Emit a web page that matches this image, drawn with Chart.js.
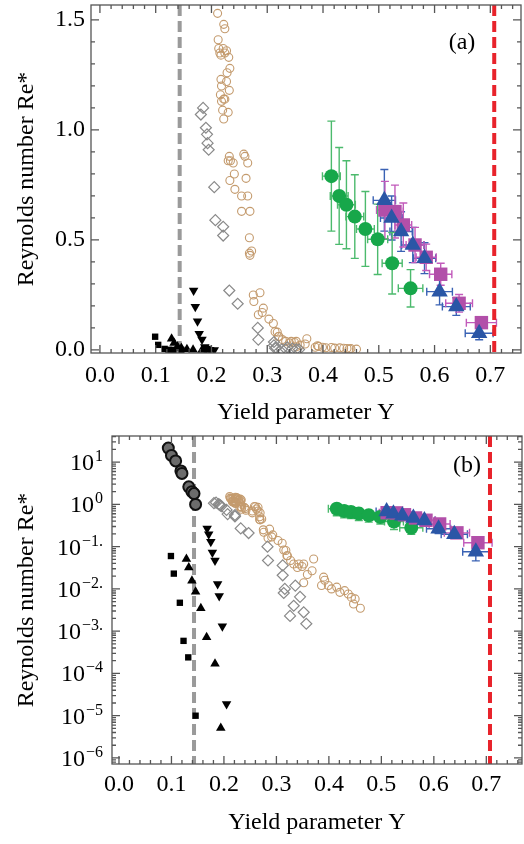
<!DOCTYPE html>
<html>
<head>
<meta charset="utf-8">
<script src="https://cdn.jsdelivr.net/npm/chart.js@4.4.0/dist/chart.umd.min.js"></script>
<style>
  html, body { margin: 0; padding: 0; background: #fff; }
  #wrapA { position: absolute; left: 0; top: 0; width: 524px; height: 432px; }
  #wrapB { position: absolute; left: 0; top: 432px; width: 524px; height: 412px; }
</style>
</head>
<body>
<div id="wrapA"><canvas id="chartA" width="524" height="432"></canvas></div>
<div id="wrapB"><canvas id="chartB" width="524" height="412"></canvas></div>
<script>
// ---- tick labels ----
const xTickVals = [0, 0.1, 0.2, 0.3, 0.4, 0.5, 0.6, 0.7];
const xTickLabels = ['0.0', '0.1', '0.2', '0.3', '0.4', '0.5', '0.6', '0.7'];
const linTickVals = [0, 0.5, 1.0, 1.5];
const linTickLabels = ['0.0', '0.5', '1.0', '1.5'];
const logTickVals = [1e-6, 1e-5, 1e-4, 1e-3, 1e-2, 1e-1, 1, 10];
const logTickExps = ['\u22126', '\u22125', '\u22124', '\u22123.', '\u22122.', '\u22121.', '0', '1'];

// ---- thresholds (vertical dashed lines) ----
const grayLineY = 0.143;
const redLineY = 0.707;

// ---- black squares ----
const sqX = [0.099, 0.1045, 0.116, 0.123, 0.132, 0.146];
const sqY = [0.060, 0.023, 0.0047, 0.00059, 0.00024, 0.00001];

// ---- black up triangles ----
const upX = [0.1285, 0.133, 0.139, 0.146, 0.156, 0.167, 0.183, 0.194];
const upY = [0.051, 0.032, 0.0156, 0.0086, 0.0035, 0.00072, 0.00017, 0.0000051];

// ---- black down triangles ----
const downX = [0.168, 0.171, 0.175, 0.178, 0.183, 0.188, 0.191, 0.197, 0.205];
const downY = [0.27, 0.196, 0.13, 0.073, 0.047, 0.013, 0.0068, 0.0013, 0.000019];

// ---- dark grey filled circles (panel b only) ----
const dkX = [0.094, 0.100, 0.108, 0.118, 0.120, 0.133, 0.139, 0.143, 0.146];
const dkY = [21.5, 14.4, 10.7, 6.2, 5.4, 2.6, 2.0, 1.8, 1.0];
const dkXErr = [0.006, 0.006, 0.006, 0.006, 0.006, 0.006, 0.006, 0.006, 0.006];

// ---- grey open diamonds ----
const diaX = [0.185, 0.181, 0.190, 0.192, 0.193, 0.195, 0.205, 0.207, 0.221, 0.221, 0.232, 0.247,
              0.283, 0.284, 0.312, 0.312, 0.336, 0.316, 0.314, 0.345, 0.333, 0.326, 0.352, 0.357];
const diaY = [1.10, 1.07, 1.01, 0.98, 0.94, 0.91, 0.74, 0.59, 0.56, 0.52, 0.27, 0.21,
              0.10, 0.047, 0.036, 0.021, 0.012, 0.010, 0.0080, 0.0065, 0.0040, 0.0023, 0.0028, 0.0015];

// ---- tan open circles ----
const tanX = [0.211, 0.222, 0.224, 0.212, 0.213, 0.221, 0.227, 0.215, 0.224, 0.217, 0.231, 0.233,
              0.228, 0.217, 0.227, 0.218, 0.232, 0.216, 0.222, 0.218, 0.224, 0.220, 0.230, 0.222,
              0.232, 0.234, 0.230, 0.239, 0.258, 0.260, 0.265, 0.241, 0.233, 0.262, 0.242, 0.254,
              0.265, 0.254, 0.269, 0.268, 0.268, 0.272, 0.269, 0.275, 0.287, 0.276, 0.293, 0.291,
              0.284, 0.303, 0.311, 0.314, 0.318, 0.320, 0.321, 0.327, 0.333, 0.340, 0.343, 0.349,
              0.352, 0.371, 0.368, 0.359, 0.352, 0.390, 0.392, 0.386, 0.399, 0.405, 0.415, 0.421,
              0.430, 0.437, 0.443, 0.450, 0.447, 0.460];
const tanY = [1.53, 1.48, 1.46, 1.41, 1.37, 1.37, 1.36, 1.35, 1.35, 1.34, 1.33, 1.28,
              1.26, 1.23, 1.22, 1.20, 1.18, 1.16, 1.14, 1.13, 1.14, 1.09, 1.08, 1.05,
              0.88, 0.86, 0.86, 0.85, 0.89, 0.88, 0.85, 0.80, 0.77, 0.78, 0.73, 0.70,
              0.70, 0.63, 0.63, 0.51, 0.44, 0.45, 0.43, 0.25, 0.26, 0.22, 0.19, 0.17,
              0.16, 0.14, 0.12, 0.083, 0.081, 0.061, 0.061, 0.047, 0.039, 0.032, 0.039, 0.034,
              0.039, 0.051, 0.027, 0.022, 0.014, 0.019, 0.016, 0.012, 0.012, 0.010, 0.011, 0.0083,
              0.0091, 0.0076, 0.0063, 0.0058, 0.0044, 0.0035];

// ---- green circles ----
const grX = [0.415, 0.429, 0.442, 0.457, 0.476, 0.498, 0.524, 0.557];
const grY = [0.79, 0.70, 0.66, 0.606, 0.55, 0.503, 0.394, 0.28];
const grXErr = [0.016, 0.016, 0.016, 0.016, 0.016, 0.018, 0.018, 0.022];
const grYErr = [0.25, 0.22, 0.20, 0.19, 0.17, 0.16, 0.14, 0.085];

// ---- magenta squares ----
const mgX = [0.511, 0.529, 0.544, 0.565, 0.585, 0.611, 0.644, 0.684];
const mgY = [0.636, 0.629, 0.568, 0.477, 0.421, 0.344, 0.212, 0.124];
const mgXErr = [0.015, 0.015, 0.015, 0.016, 0.018, 0.020, 0.024, 0.027];
const mgYErr = [0.13, 0.12, 0.10, 0.08, 0.06, 0.05, 0.04, 0.025];

// ---- blue triangles ----
const blX = [0.510, 0.523, 0.540, 0.561, 0.582, 0.609, 0.639, 0.680];
const blY = [0.68, 0.60, 0.538, 0.477, 0.417, 0.265, 0.197, 0.076];
const blXErr = [0.02, 0.02, 0.02, 0.02, 0.02, 0.023, 0.025, 0.025];
const blYErr = [0.14, 0.10, 0.09, 0.08, 0.07, 0.06, 0.04, 0.03];

const FAMILY = '"Liberation Serif", "Times New Roman", serif';
const FONT = { family: FAMILY, size: 24 };
const FRAME = '#555';

function pts(xs, ys) {
    return xs.map((v, i) => ({ x: v, y: ys[i] }));
}

function buildDatasets(logPanel) {
    const sets = [
        { label: 'blue', data: pts(blX, blY), pointStyle: 'triangle', pointRadius: 9.5,
          backgroundColor: '#2a56a6', borderColor: '#2a56a6', borderWidth: 0,
          errX: blXErr, errY: blYErr, errColor: '#3a62b4' },
        { label: 'magenta', data: pts(mgX, mgY), pointStyle: 'rect', pointRadius: 9.5,
          backgroundColor: '#b24fa9', borderColor: '#b24fa9', borderWidth: 0,
          errX: mgXErr, errY: mgYErr, errColor: '#c25bbb' },
        { label: 'green', data: pts(grX, grY), pointStyle: 'circle', pointRadius: 7,
          backgroundColor: '#17a74a', borderColor: '#17a74a', borderWidth: 0,
          errX: grXErr, errY: grYErr, errColor: '#4cba6d' }
    ];
    if (logPanel) {
        sets.push({ label: 'dark', data: pts(dkX, dkY), pointStyle: 'circle', pointRadius: 5.5,
          backgroundColor: '#6c6c6c', borderColor: '#111', borderWidth: 2,
          errX: dkXErr, errColor: '#222' });
    }
    sets.push(
        { label: 'squares', data: pts(sqX, sqY), pointStyle: 'rect', pointRadius: 4.5,
          backgroundColor: '#000', borderColor: '#000', borderWidth: 0 },
        { label: 'up', data: pts(upX, upY), pointStyle: 'triangle', pointRadius: 5.5,
          backgroundColor: '#000', borderColor: '#000', borderWidth: 0 },
        { label: 'down', data: pts(downX, downY), pointStyle: 'triangle', pointRotation: 180, pointRadius: 5.5,
          backgroundColor: '#000', borderColor: '#000', borderWidth: 0 },
        { label: 'diamonds', data: pts(diaX, diaY), pointStyle: 'rectRot', pointRadius: 5.5,
          backgroundColor: 'rgba(0,0,0,0)', borderColor: '#8a8a8a', borderWidth: 1.2 },
        { label: 'tan', data: pts(tanX, tanY), pointStyle: 'circle', pointRadius: 4,
          backgroundColor: 'rgba(0,0,0,0)', borderColor: '#c49b6e', borderWidth: 1.1 }
    );
    return sets;
}

// error bars + dashed lines under the markers, frame/ticks/panel tag on top
const decor = {
    id: 'decor',
    beforeDatasetsDraw(chart, args, opts) {
        const { ctx, chartArea: a, scales: { x, y } } = chart;
        ctx.save();
        ctx.beginPath();
        ctx.rect(a.left, a.top, a.right - a.left, a.bottom - a.top);
        ctx.clip();
        chart.data.datasets.forEach(ds => {
            if (!ds.errX && !ds.errY) return;
            ctx.strokeStyle = ds.errColor;
            ctx.lineWidth = 1.4;
            ds.data.forEach((p, j) => {
                const px = x.getPixelForValue(p.x), py = y.getPixelForValue(p.y);
                ctx.beginPath();
                if (ds.errY) {
                    let lo = p.y - ds.errY[j];
                    if (lo <= y.min) lo = y.min;
                    const p1 = y.getPixelForValue(p.y + ds.errY[j]);
                    const p2 = y.getPixelForValue(lo);
                    ctx.moveTo(px, p1); ctx.lineTo(px, p2);
                    ctx.moveTo(px - 4, p1); ctx.lineTo(px + 4, p1);
                    ctx.moveTo(px - 4, p2); ctx.lineTo(px + 4, p2);
                }
                if (ds.errX) {
                    const q1 = x.getPixelForValue(p.x - ds.errX[j]);
                    const q2 = x.getPixelForValue(p.x + ds.errX[j]);
                    ctx.moveTo(q1, py); ctx.lineTo(q2, py);
                    ctx.moveTo(q1, py - 4); ctx.lineTo(q1, py + 4);
                    ctx.moveTo(q2, py - 4); ctx.lineTo(q2, py + 4);
                }
                ctx.stroke();
            });
        });
        // vertical dashed lines
        [[grayLineY, '#9a9a9a'], [redLineY, '#e8232b']].forEach(([v, c]) => {
            const px = x.getPixelForValue(v);
            ctx.strokeStyle = c;
            ctx.lineWidth = 4;
            ctx.setLineDash([11, 5]);
            ctx.beginPath();
            ctx.moveTo(px, a.top);
            ctx.lineTo(px, a.bottom);
            ctx.stroke();
        });
        ctx.restore();
    },
    afterDraw(chart, args, opts) {
        const { ctx, chartArea: a, scales: { x, y } } = chart;
        ctx.save();
        ctx.strokeStyle = FRAME;
        ctx.lineWidth = 1.3;
        ctx.strokeRect(a.left, a.top, a.right - a.left, a.bottom - a.top);
        ctx.beginPath();
        const xt = (v, len) => {
            const p = x.getPixelForValue(v);
            if (p < a.left || p > a.right) return;
            ctx.moveTo(p, a.bottom); ctx.lineTo(p, a.bottom - len);
            ctx.moveTo(p, a.top); ctx.lineTo(p, a.top + len);
        };
        const yt = (v, len) => {
            const p = y.getPixelForValue(v);
            if (p < a.top || p > a.bottom) return;
            ctx.moveTo(a.left, p); ctx.lineTo(a.left + len, p);
            ctx.moveTo(a.right, p); ctx.lineTo(a.right - len, p);
        };
        opts.xMajor.forEach(v => xt(v, 8));
        opts.xMinor.forEach(v => xt(v, 4));
        opts.yMajor.forEach(v => yt(v, 8));
        opts.yMinor.forEach(v => yt(v, 4));
        ctx.stroke();
        ctx.fillStyle = '#000';
        // power-of-ten labels: base plus raised exponent
        if (opts.expLabels) {
            logTickVals.forEach((v, i) => {
                const py = y.getPixelForValue(v);
                const right = a.left - 9;
                ctx.font = '16px ' + FAMILY;
                ctx.textAlign = 'right';
                ctx.textBaseline = 'alphabetic';
                const ew = ctx.measureText(opts.expLabels[i]).width;
                ctx.fillText(opts.expLabels[i], right, py - 1);
                ctx.font = '24px ' + FAMILY;
                ctx.fillText('10', right - ew - 1, py + 8);
            });
        }
        ctx.font = FONT.size + 'px ' + FAMILY;
        ctx.textAlign = 'center';
        ctx.textBaseline = 'middle';
        ctx.fillText(opts.tag, opts.tagX, opts.tagY);
        ctx.restore();
    }
};

const xMinor = [];
for (let i = 0; i <= 38; i++) if (i % 5 !== 0) xMinor.push(i * 0.02);
const linMinor = [];
for (let i = 1; i <= 15; i++) if (i % 5 !== 0) linMinor.push(i * 0.1);
const logMinor = [];
for (let d = -7; d <= 1; d++) for (let k = 2; k <= 9; k++) logMinor.push(k * Math.pow(10, d));

function xScale(min, max, h, pad, titlePad) {
    return {
        type: 'linear', min: min, max: max,
        grid: { display: false, drawTicks: false }, border: { display: false },
        ticks: { font: FONT, color: '#000', padding: pad, maxRotation: 0, autoSkip: false,
                 callback: (v, i) => xTickLabels[i] },
        afterBuildTicks: s => { s.ticks = xTickVals.map(v => ({ value: v })); },
        afterFit: s => { s.height = h; s.paddingLeft = 0; s.paddingRight = 0; },
        title: { display: true, text: 'Yield parameter Y', font: FONT, color: '#000',
                 padding: { top: 0, bottom: titlePad } }
    };
}

function yTitle() {
    return { display: true, text: 'Reynolds number Re*', font: FONT, color: '#000',
             padding: { top: 12, bottom: 0 } };
}

new Chart(document.getElementById('chartA'), {
    type: 'scatter',
    data: { datasets: buildDatasets(false) },
    options: {
        responsive: false, animation: false,
        layout: { autoPadding: false, padding: { left: 0, right: 3, top: 5, bottom: 0 } },
        plugins: { legend: { display: false }, tooltip: { enabled: false },
                   decor: { xMajor: xTickVals, xMinor: xMinor, yMajor: linTickVals, yMinor: linMinor,
                            tag: '(a)', tagX: 462, tagY: 43 } },
        scales: {
            x: xScale(-0.016, 0.755, 79, 8, 4.5),
            y: {
                type: 'linear', min: -0.014, max: 1.568,
                grid: { display: false, drawTicks: false }, border: { display: false },
                ticks: { font: FONT, color: '#000', padding: 6, autoSkip: false,
                         callback: (v, i) => linTickLabels[i] },
                afterBuildTicks: s => { s.ticks = linTickVals.map(v => ({ value: v })); },
                afterFit: s => { s.width = 91; s.paddingTop = 0; s.paddingBottom = 0; },
                title: yTitle()
            }
        }
    },
    plugins: [decor]
});

new Chart(document.getElementById('chartB'), {
    type: 'scatter',
    data: { datasets: buildDatasets(true) },
    options: {
        responsive: false, animation: false,
        layout: { autoPadding: false, padding: { left: 0, right: 2, top: 4, bottom: 0 } },
        plugins: { legend: { display: false }, tooltip: { enabled: false },
                   decor: { xMajor: xTickVals, xMinor: xMinor, yMajor: logTickVals, yMinor: logMinor,
                            expLabels: logTickExps, tag: '(b)', tagX: 467, tagY: 34 } },
        scales: {
            x: xScale(-0.0133, 0.768, 80, 6, 6.5),
            y: {
                type: 'logarithmic', min: 7.2e-7, max: 41.5,
                grid: { display: false, drawTicks: false }, border: { display: false },
                ticks: { display: false },
                afterBuildTicks: s => { s.ticks = logTickVals.map(v => ({ value: v })); },
                afterFit: s => { s.width = 112; s.paddingTop = 0; s.paddingBottom = 0; },
                title: yTitle()
            }
        }
    },
    plugins: [decor]
});
</script>
</body>
</html>
